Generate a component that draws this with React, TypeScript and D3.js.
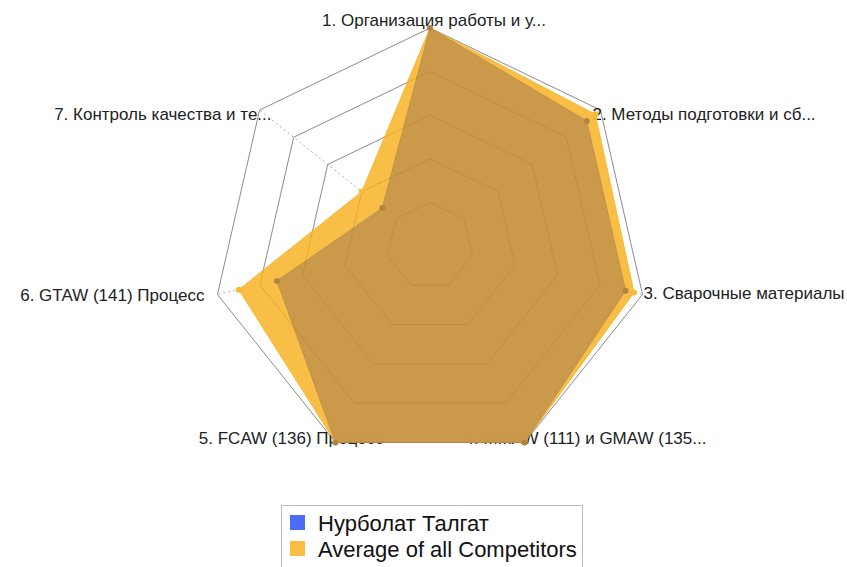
import React from 'react';
import * as d3 from 'd3';

const categories = [
  '1. Организация работы и у...',
  '2. Методы подготовки и сб...',
  '3. Сварочные материалы',
  '4. MMAW (111) и GMAW (135...',
  '5. FCAW (136) Процесс',
  '6. GTAW (141) Процесс',
  '7. Контроль качества и те...',
];
const competitorValues = [100, 92, 92, 100, 100, 72, 28];
const averageValues = [100, 97, 96, 100, 100, 90, 40];
const gridLevels = [20, 40, 60, 80, 100];
const seriesNames = ['Нурболат Талгат', 'Average of all Competitors'];

// label placement relative to each axis end: [dx, dy, anchor]
const labelOffsets: [number, number, string][] = [
  [4, -8, 'middle'],
  [-8, 4, 'start'],
  [1, -1, 'start'],
  [-60, -4, 'start'],
  [48, -4, 'end'],
  [-13, 1, 'end'],
  [12, 4, 'end'],
];

const App = () => {
  const width = 847;
  const height = 567;
  const cx = 430;
  const cy = 246;
  const radius = 218;

  const r = d3.scaleLinear().domain([0, 100]).range([0, radius]);
  const angle = d3
    .scaleLinear()
    .domain([0, categories.length])
    .range([0, 2 * Math.PI]);

  const pt = (i: number, v: number): [number, number] => {
    const a = angle(i) - Math.PI / 2;
    return [cx + r(v) * Math.cos(a), cy + r(v) * Math.sin(a)];
  };

  const closed = d3.line().curve(d3.curveLinearClosed);

  const ring = (v: number) => closed(categories.map((_, i) => pt(i, v)));
  const avgPath = closed(averageValues.map((v, i) => pt(i, v)));
  const compPath = closed(competitorValues.map((v, i) => pt(i, v)));

  const font = 'Liberation Sans, Arial, sans-serif';

  return (
    <svg
      width={width}
      height={height}
      viewBox={`0 0 ${width} ${height}`}
      style={{ position: 'absolute', left: 0, top: 0, background: '#fff' }}
    >
      {gridLevels.map(v => (
        <path key={`ring-${v}`} d={ring(v) || ''} fill="none" stroke="#999" strokeWidth={1} />
      ))}
      {categories.map((_, i) => {
        const [x, y] = pt(i, 100);
        return (
          <line
            key={`spoke-${i}`}
            x1={cx}
            y1={cy}
            x2={x}
            y2={y}
            stroke="#aaa"
            strokeWidth={1}
            strokeDasharray="2,3"
          />
        );
      })}

      {categories.map((c, i) => {
        const [x, y] = pt(i, 100);
        const [dx, dy, anchor] = labelOffsets[i];
        return (
          <text
            key={`label-${i}`}
            x={x + dx}
            y={y + dy}
            dy="0.35em"
            textAnchor={anchor as any}
            fontFamily={font}
            fontSize={17}
            fill="#222"
          >
            {c}
          </text>
        );
      })}

      <path d={avgPath || ''} fill="#f8b935" fillOpacity={0.92} stroke="#f8b935" strokeWidth={1} />
      <path d={compPath || ''} fill="#c4964a" fillOpacity={0.9} stroke="#c0924a" strokeWidth={1} />

      {/* grid showing faintly through the fills */}
      {gridLevels.map(v => (
        <path key={`ring-over-${v}`} d={ring(v) || ''} fill="none" stroke="#000" strokeOpacity={0.07} strokeWidth={1} />
      ))}

      {averageValues.map((v, i) => {
        const [x, y] = pt(i, v);
        return <circle key={`ap-${i}`} cx={x} cy={y} r={3} fill="#f8b935" />;
      })}
      {competitorValues.map((v, i) => {
        const [x, y] = pt(i, v);
        return <circle key={`cp-${i}`} cx={x} cy={y} r={3} fill="#b08544" />;
      })}

      <g>
        <rect x={281.5} y={505.5} width={301} height={80} fill="#fff" stroke="#bbb" strokeWidth={1} />
        {seriesNames.map((s, i) => (
          <g key={`leg-${i}`} transform={`translate(290, ${515 + i * 26})`}>
            <rect width={15} height={15} fill={i === 0 ? '#4a6cf7' : '#f8bd43'} />
            <text x={28} y={8} dy="0.35em" fontFamily={font} fontSize={22} fill="#111">
              {s}
            </text>
          </g>
        ))}
      </g>
    </svg>
  );
};

export default App;
